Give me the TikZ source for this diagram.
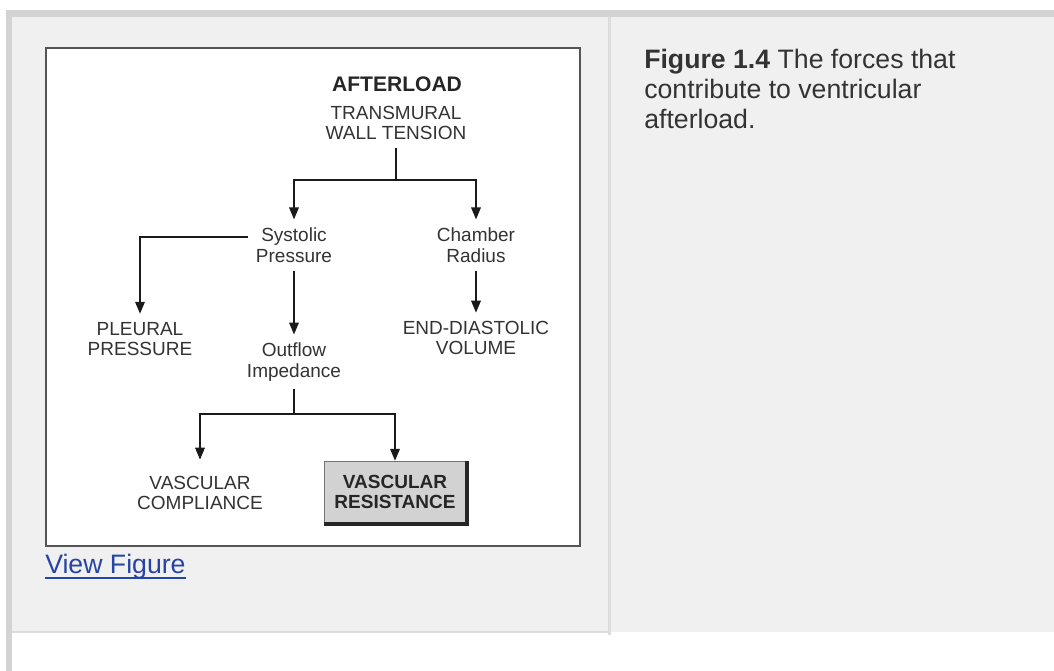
\documentclass[tikz,border=0pt]{standalone}
\usepackage{fontspec}
\setmainfont{Liberation Sans}
\usetikzlibrary{positioning,calc,arrows.meta}

\definecolor{panelbg}{HTML}{F0F0F0}
\definecolor{rulegray}{HTML}{D3D3D3}
\definecolor{cellline}{HTML}{DDDDDD}
\definecolor{framegray}{HTML}{555555}
\definecolor{inkgray}{HTML}{333333}
\definecolor{wiregray}{HTML}{1A1A1A}
\definecolor{boxgray}{HTML}{D2D2D2}
\definecolor{linkblue}{HTML}{2644A5}
\definecolor{captext}{HTML}{333333}

\newcommand\figfont{\fontsize{14.25pt}{15.4pt}\selectfont}
\newcommand\headfont{\fontsize{15.8pt}{17pt}\selectfont}
\newcommand\capfont{\fontsize{20pt}{22.5pt}\selectfont}

\begin{document}
\begin{tikzpicture}[x=0.75pt, y=-0.75pt,
    every node/.style={inner sep=6pt, align=center, text=inkgray, font=\figfont},
    wire/.style={draw=wiregray, line width=1.6pt},
    arr/.style={wire, -{Triangle[length=9pt,width=7pt]}},
    resbox/.style={fill=boxgray, draw=black!55, line width=1pt, inner sep=0pt,
        minimum width=105.75pt, minimum height=45.75pt, text=black!85, font=\figfont\bfseries}]

    \useasboundingbox (0,0) rectangle (1054,671);

    % page cells
    \fill[white] (0,0) rectangle (1054,671);
    \fill[rulegray] (6,10) rectangle (1054,17);
    \fill[rulegray] (6,10) rectangle (12,671);
    \fill[panelbg] (12,17) rectangle (1054,632);
    \fill[cellline] (12,631) rectangle (610,633);
    \fill[cellline] (608,17) rectangle (611,635);

    % figure frame
    \draw[fill=white, draw=framegray, line width=1.6pt] (46,48) rectangle (580,546);

    \node[font=\headfont\bfseries, text=black!85] (afterload) at (397,84) {AFTERLOAD};
    \node (tension) at (396,123) {TRANSMURAL\\WALL TENSION};

    \node (systolic) at (294,245) {Systolic\\Pressure};
    \node (chamber) at (476,245) {Chamber\\Radius};

    \node (pleural) at (140,339) {PLEURAL\\PRESSURE};
    \node (outflow) at (294,362) {Outflow\\Impedance};
    \node (volume) at (476,338) {END-DIASTOLIC\\VOLUME};

    \node (compliance) at (200,493) {VASCULAR\\COMPLIANCE};
    \node[resbox] (resistance) at (395,492) {VASCULAR\\RESISTANCE};
    \draw[draw=black!85, line width=2.4pt] ([xshift=0.6pt]resistance.north east) -- ([xshift=0.6pt,yshift=-0.6pt]resistance.south east) -- ([yshift=-0.6pt]resistance.south west);

    \coordinate (topfork) at (396,180);
    \coordinate (lowfork) at (294,414);

    \draw[wire] (tension.south) -- (topfork);
    \draw[arr] (topfork) -| (systolic.north);
    \draw[arr] (topfork) -| (chamber.north);
    \draw[arr] ([yshift=6pt]systolic.west) -| (pleural.north);
    \draw[arr] (systolic.south) -- (outflow.north);
    \draw[arr] (chamber.south) -- (volume.north);
    \draw[wire] (outflow.south) -- (lowfork);
    \draw[arr, shorten >=6pt] (lowfork) -| (compliance.north);
    \draw[arr] (lowfork) -| (resistance.north);

    % caption and link
    \node[anchor=north west, inner sep=0pt, align=left, font=\capfont, text=captext] (caption) at (644,49)
        {\textbf{Figure 1.4} The forces that\\contribute to ventricular\\afterload.};
    \node[anchor=base west, inner sep=0pt, font=\capfont, text=linkblue] (link) at (45,573) {View Figure};
    \draw[linkblue, line width=1.4pt] ([yshift=-3.75pt]link.base west) -- ([yshift=-3.75pt]link.base east);

\end{tikzpicture}
\end{document}
